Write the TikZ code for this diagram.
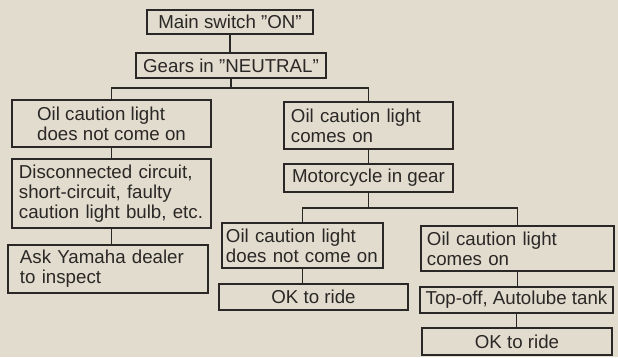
\documentclass[tikz,border=0pt]{standalone}
\usepackage{fontspec}
\setmainfont{Liberation Sans}
\definecolor{paper}{RGB}{226,220,206}
\definecolor{ink}{RGB}{42,40,38}

\begin{document}
\begin{tikzpicture}[x=0.025cm,y=-0.025cm,
  every node/.style={draw=ink,text=ink,line width=1.4pt,inner sep=0pt,align=left,
    font=\fontsize{13.3}{14.2}\selectfont},
  wire/.style={draw=ink,line width=1.3pt}]
  \useasboundingbox (0,0) rectangle (618,357);
  \fill[paper] (0,0) rectangle (618,357);

  \node[minimum width=4.15cm,minimum height=0.6cm] (main) at (230,22) {Main switch ''ON''};
  \node[minimum width=4.75cm,minimum height=0.625cm] (neut) at (231,65.5) {Gears in ''NEUTRAL''};
  \coordinate (s1) at (231,88);

  \node[minimum width=4.975cm,minimum height=1.175cm] (l1) at (111.5,123.5) {Oil caution light\\does not come on};
  \node[minimum width=4.975cm,minimum height=1.725cm,text width=4.625cm] (l2) at (111.5,193.5) {Disconnected circuit,\\short-circuit, faulty\\caution light bulb, etc.};
  \node[minimum width=5cm,minimum height=1.2cm,text width=4.4cm] (l3) at (108,269) {Ask Yamaha dealer\\to inspect};

  \node[minimum width=4.225cm,minimum height=1.175cm,text width=3.875cm] (r1) at (368.5,125.5) {Oil caution light\\comes on};
  \node[minimum width=4.225cm,minimum height=0.7cm] (r2) at (368.5,178) {Motorcycle in gear};
  \coordinate (s2) at (368.5,208);

  \node[minimum width=4.025cm,minimum height=1.125cm,text width=3.825cm] (ra1) at (302.5,245.5) {Oil caution light\\does not come on};
  \node[minimum width=4.725cm,minimum height=0.65cm] (ra2) at (313.5,297) {OK to ride};

  \node[minimum width=4.825cm,minimum height=1.125cm,text width=4.525cm] (rb1) at (517.5,248.5) {Oil caution light\\comes on};
  \node[minimum width=4.825cm,minimum height=0.65cm] (rb2) at (516.5,300) {Top-off, Autolube tank};
  \node[minimum width=4.75cm,minimum height=0.675cm] (rb3) at (517,341.5) {OK to ride};

  \draw[wire] (neut.south) -- (s1);
  \draw[wire] (l1) |- (s1) -| (r1);
  \draw[wire] (r2.south) -- (s2);
  \draw[wire] (ra1) |- (s2) -| (rb1);

  \foreach \a/\b in {main/neut,l1/l2,l2/l3,r1/r2,ra1/ra2,rb1/rb2,rb2/rb3}{
    \draw[wire] (\a.south) -- (\a.south |- \b.north);
  }
\end{tikzpicture}
\end{document}
